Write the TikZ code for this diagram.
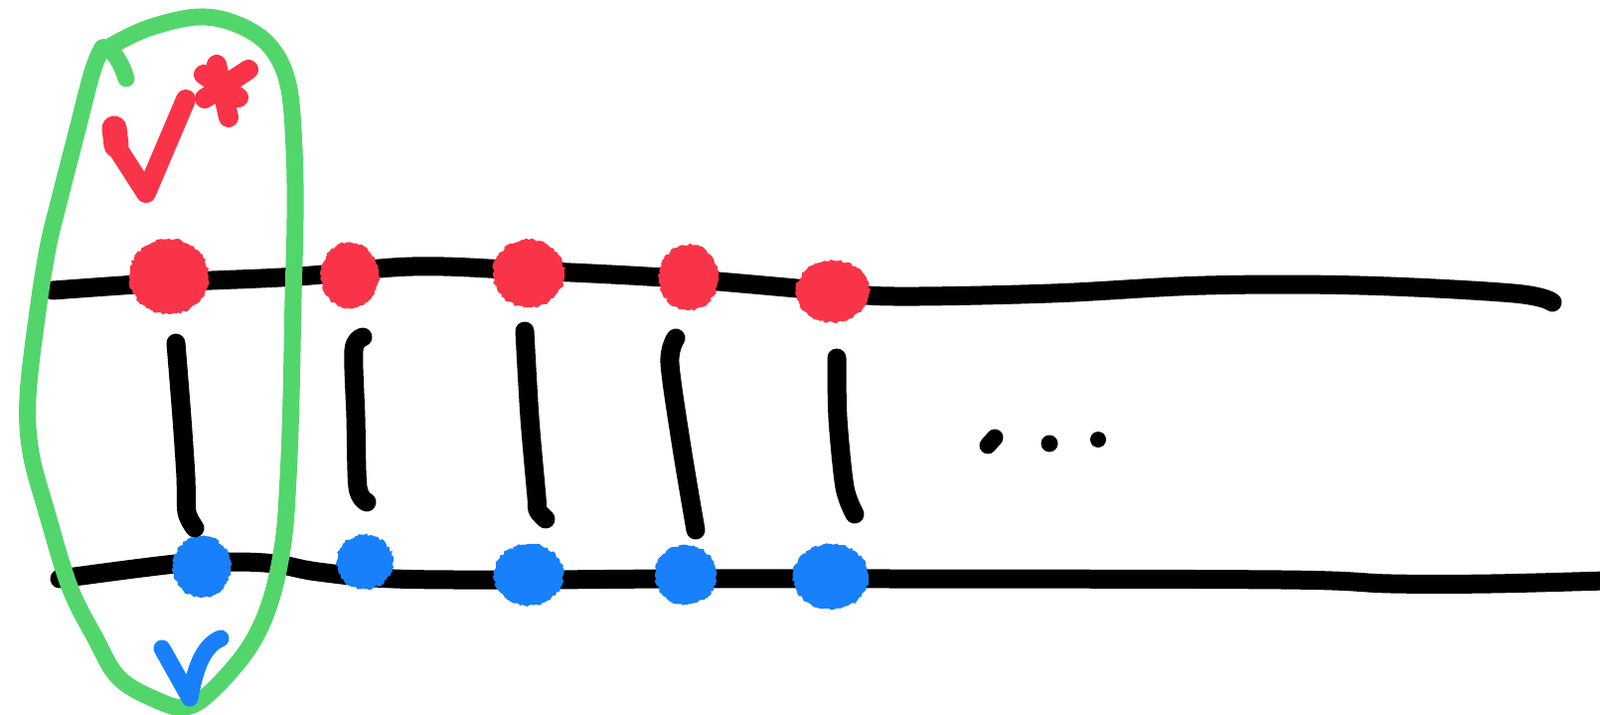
\documentclass[tikz,border=0pt]{standalone}
\usetikzlibrary{shapes.geometric,decorations.pathmorphing}
\definecolor{sred}{RGB}{250,52,72}
\definecolor{sblue}{RGB}{23,128,250}
\definecolor{sgreen}{RGB}{82,214,108}
\tikzset{
  ink/.style={line width=19pt, line cap=round, line join=round},
  redink/.style={draw=sred, line width=20pt, line cap=round, line join=round},
  blueink/.style={draw=sblue, line width=17pt, line cap=round, line join=round},
  greenink/.style={draw=sgreen, line width=17pt, line cap=round, line join=round},
  dotbase/.style={ellipse, inner sep=0pt, outer sep=0pt, decorate,
    decoration={random steps, segment length=2.5pt, amplitude=1.3pt}},
  reddot/.style={dotbase, fill=sred},
  bluedot/.style={dotbase, fill=sblue},
}
\begin{document}
\begin{tikzpicture}[x=1pt,y=-1pt]
\useasboundingbox (0,0) rectangle (1610,718);
% horizontal strands
\draw[ink] plot[smooth, tension=0.6] coordinates {(53,292) (170,284) (300,278) (415,268) (530,272) (683,280) (836,293) (900,298) (1058,295) (1213,287) (1368,287) (1523,295) (1562,304)};
\draw[ink] plot[smooth, tension=0.6] coordinates {(60,582) (177,567) (233,565) (277,567) (320,575) (396,582) (530,583) (683,582) (900,582) (1290,583) (1400,587) (1500,587) (1615,584)};
% red dots
\node[reddot, minimum width=80pt, minimum height=76pt] (r1) at (170,278) {};
\node[reddot, minimum width=58pt, minimum height=67pt] (r2) at (352,277) {};
\node[reddot, minimum width=72pt, minimum height=68pt] (r3) at (532,275) {};
\node[reddot, minimum width=60pt, minimum height=66pt] (r4) at (693,279) {};
\node[reddot, minimum width=74pt, minimum height=62pt] (r5) at (838,293) {};
% blue dots
\node[bluedot, minimum width=58pt, minimum height=62pt] (b1) at (203,570) {};
\node[bluedot, minimum width=57pt, minimum height=55pt] (b2) at (367,565) {};
\node[bluedot, minimum width=70pt, minimum height=62pt] (b3) at (532,578) {};
\node[bluedot, minimum width=62pt, minimum height=60pt] (b4) at (690,578) {};
\node[bluedot, minimum width=76pt, minimum height=66pt] (b5) at (836,580) {};
% rungs
\draw[ink] plot[smooth] coordinates {(177,345) (183,420) (187,480) (188,515) (196,531)};
\draw[ink] plot[smooth] coordinates {(365,339) (356,352) (358,420) (360,490) (369,505)};
\draw[ink] plot[smooth] coordinates {(528,333) (533,420) (540,500) (541,513) (549,522)};
\draw[ink] plot[smooth] coordinates {(680,340) (674,365) (686,450) (700,533)};
\draw[ink] plot[smooth] coordinates {(842,360) (843,420) (850,490) (860,517)};
% ellipsis
\draw[line width=17pt, line cap=round] (994,448) -- (1001,440);
\fill (1056,446) circle (8.5pt);
\fill (1105,442) circle (8pt);
% green loop
\draw[greenink] plot[smooth, tension=0.6] coordinates {(112,46) (150,28) (200,17) (240,25) (272,47) (290,85) (296,150) (297,220) (295,300) (293,400) (290,480) (285,545) (272,605) (250,652) (213,695) (187,711) (160,705) (120,682) (95,640) (70,590) (47,515) (31,455) (28,400) (37,320) (48,250) (60,200) (78,130) (93,72) (103,48)}
  .. controls (110,44) and (122,62) .. (127,79);
% labels
\draw[redink, line width=25pt] (115,129) -- (117,146);
\draw[redink] (117,146) -- (120,152) -- (147,194) -- (187,100);
\draw[redink] (205,75) -- (240,98);
\draw[redink] (250,70) -- (206,99);
\draw[redink] (218,65) -- (230,118);
\draw[blueink] (163,652) -- (191,702) .. controls (196,675) and (203,650) .. (222,642);
\end{tikzpicture}
\end{document}
